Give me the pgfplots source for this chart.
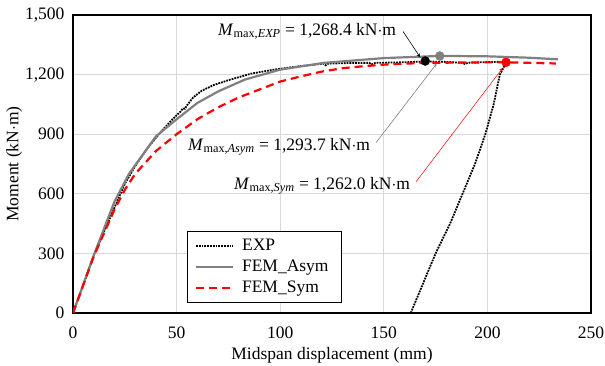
\documentclass[border=0pt]{standalone}
\usepackage{pgfplots}
\pgfplotsset{compat=1.18}
\usepackage{fontspec}
\setmainfont{Liberation Serif}
\begin{document}
\begin{tikzpicture}
\begin{axis}[
  scale only axis,
  width=518pt, height=298pt,
  xmin=0, xmax=250, ymin=0, ymax=1500,
  xtick={0,50,...,250}, ytick={0,300,...,1500},
  grid=major,
  grid style={draw=black!15, line width=0.8pt},
  axis line style={line width=1.3pt},
  major tick length=0pt,
  /pgf/number format/.cd, 1000 sep={,}, assume math mode=true,
  /pgfplots/.cd,
  tick label style={font=\fontsize{17.5}{20}\selectfont},
  label style={font=\fontsize{17.5}{20}\selectfont},
  xticklabel style={yshift=-10pt},
  yticklabel style={xshift=-5pt},
  xlabel={Midspan displacement (mm)},
  ylabel={Moment (kN$\cdot$m)},
  xlabel style={yshift=-2pt},
  ylabel style={yshift=-4pt},
  legend style={at={(0.221,0.034)}, anchor=south west, draw=black, line width=0.8pt,
    font=\fontsize{17.5}{22}\selectfont, row sep=4pt, inner xsep=5pt, inner ysep=6pt},
  legend cell align=left,
  legend image code/.code={\draw[#1] (0pt,0pt) -- (37pt,0pt); \path (-2pt,0pt) (43pt,0pt);},
]
\addplot[black, densely dotted, line width=1.8pt] coordinates {
(0,0) (5,140) (10,290) (15,410) (20,530) (25,650) (30,740) (36,830) (42,907) (48,975) (52,1015) (53,1030) (54,1028) (55,1045) (58,1085) (62,1118) (68,1148) (76,1175) (86,1205) (97,1225) (110,1243) (121,1255) (122,1247) (123,1255) (135,1259) (143,1259) (144,1251) (146,1259) (160,1262) (170,1266) (180,1264) (188,1259) (189,1254) (191,1260) (200,1263) (209,1265)
(208,1240) (206,1200) (203,1050) (199,900) (194,750) (188,600) (182,450) (175,300) (169,150) (163,0)
};
\addlegendentry{EXP\hspace*{8pt}}
\addplot[gray, line width=2.2pt] coordinates {
(0,0) (10,290) (20,560) (27,700) (40,889) (50,975) (60,1057) (70,1115) (83,1175) (100,1225) (121,1259) (150,1283) (177,1294) (200,1292) (220,1285) (234,1277)
};
\addlegendentry{FEM\_Asym\hspace*{6pt}}
\addplot[red, dashed, dash pattern=on 8pt off 5pt, line width=2.2pt] coordinates {
(0,0) (10,285) (20,520) (25,620) (30,700) (40,815) (50,900) (60,975) (70,1035) (80,1085) (90,1125) (100,1165) (110,1191) (120,1215) (130,1232) (140,1242) (150,1250) (160,1255) (170,1259) (190,1261) (209,1262) (233,1256)
};
\addlegendentry{FEM\_Sym}
\addplot[only marks, mark=*, mark size=4.5pt, black, forget plot] coordinates {(170,1268.4)};
\addplot[only marks, mark=*, mark size=4.5pt, gray, forget plot] coordinates {(177,1293.7)};
\addplot[only marks, mark=*, mark size=4.5pt, red, forget plot] coordinates {(209,1262)};
\node[anchor=west, font=\fontsize{17.5}{20}\selectfont, inner sep=0pt] at (axis cs:70,1417) {\textit{M}\textsubscript{max,\textit{EXP}} = 1,268.4 kN$\cdot$m};
\node[anchor=west, font=\fontsize{17.5}{20}\selectfont, inner sep=0pt] at (axis cs:55.5,837) {\textit{M}\textsubscript{max,\textit{Asym}} = 1,293.7 kN$\cdot$m};
\node[anchor=west, font=\fontsize{17.5}{20}\selectfont, inner sep=0pt] at (axis cs:77.7,640) {\textit{M}\textsubscript{max,\textit{Sym}} = 1,262.0 kN$\cdot$m};
\draw[-stealth, black, line width=0.6pt] (axis cs:159.3,1417) -- (axis cs:167.5,1288);
\draw[-stealth, gray, line width=0.6pt] (axis cs:146.2,857) -- (axis cs:175.5,1255);
\draw[-stealth, red, line width=0.5pt] (axis cs:165.5,660) -- (axis cs:207.3,1232);
\end{axis}
\pgfresetboundingbox
\path ([xshift=-73pt,yshift=-53pt]current axis.south west) rectangle ([xshift=14pt,yshift=15pt]current axis.north east);
\end{tikzpicture}
\end{document}
